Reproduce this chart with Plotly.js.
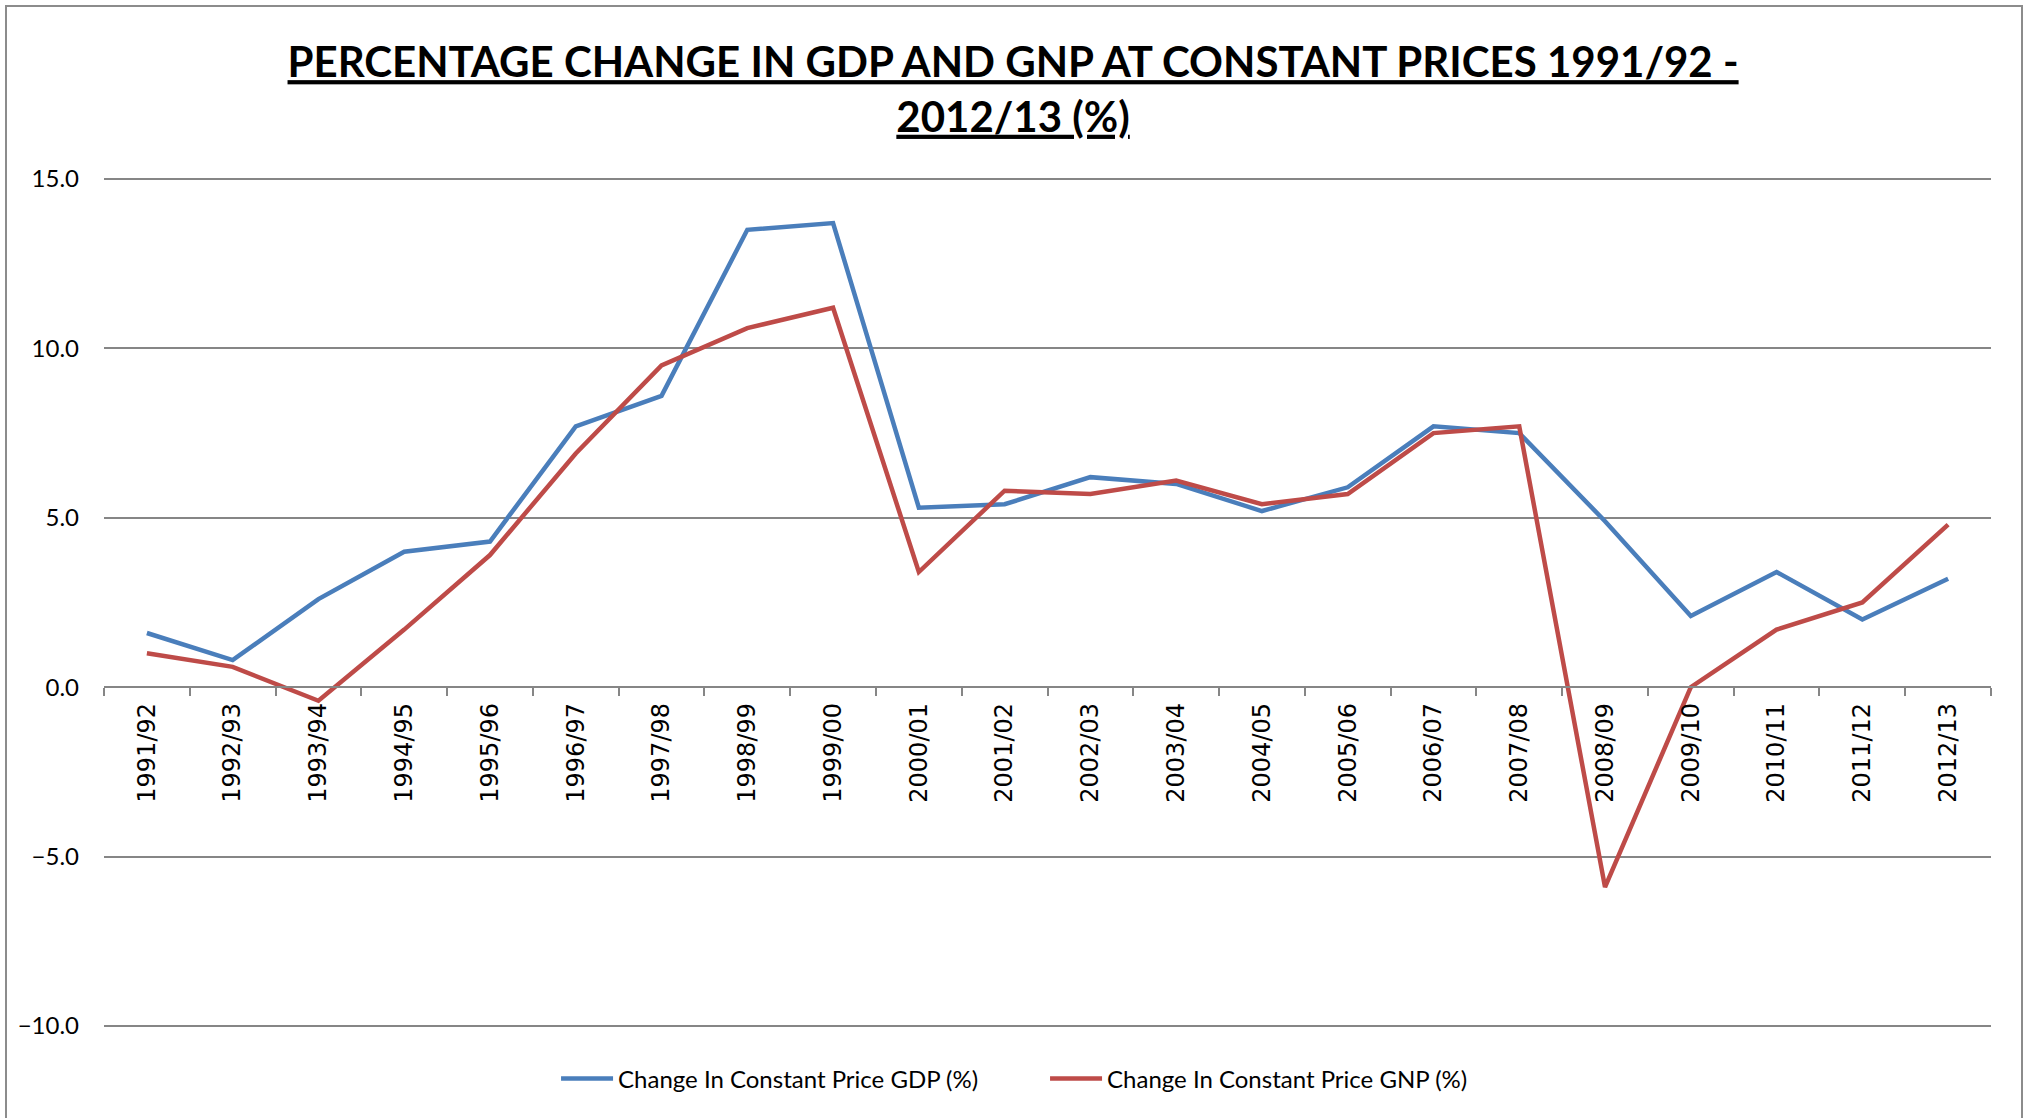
<!DOCTYPE html>
<html>
<head>
<meta charset="utf-8">
<script src="https://cdn.plot.ly/plotly-3.0.1.min.js"></script>
<style>
  html, body { margin: 0; padding: 0; background: #ffffff; overflow: hidden; }
  #chart { position: absolute; left: 0; top: 0; width: 2031px; height: 1118px; }
  #frame { position: absolute; left: 5px; top: 5px; width: 2014px; height: 1140px;
           border: 2px solid #8c8c8c; pointer-events: none; }
</style>
</head>
<body>
<div id="chart"></div>
<div id="frame"></div>
<script>
const categories = ['1991/92','1992/93','1993/94','1994/95','1995/96','1996/97','1997/98','1998/99',
  '1999/00','2000/01','2001/02','2002/03','2003/04','2004/05','2005/06','2006/07','2007/08',
  '2008/09','2009/10','2010/11','2011/12','2012/13'];
const gdpChange = [1.6, 0.8, 2.6, 4.0, 4.3, 7.7, 8.6, 13.5, 13.7, 5.3, 5.4, 6.2, 6.0, 5.2, 5.9, 7.7, 7.5, 4.9, 2.1, 3.4, 2.0, 3.2];
const gnpChange = [1.0, 0.6, -0.4, 1.7, 3.9, 6.9, 9.5, 10.6, 11.2, 3.4, 5.8, 5.7, 6.1, 5.4, 5.7, 7.5, 7.7, -5.9, 0.0, 1.7, 2.5, 4.8];
const seriesNames = ['Change In Constant Price GDP (%)', 'Change In Constant Price GNP (%)'];
const yTicks = [-10, -5, 0, 5, 10, 15];
const titleLines = ['PERCENTAGE CHANGE IN GDP AND GNP AT CONSTANT PRICES 1991/92 -', '2012/13 (%)'];

const traces = [
  { x: categories, y: gdpChange, name: seriesNames[0], type: 'scatter', mode: 'lines',
    line: { color: '#4A7EBB', width: 4.5 } },
  { x: categories, y: gnpChange, name: seriesNames[1], type: 'scatter', mode: 'lines',
    line: { color: '#BE4B48', width: 4.5 } }
];

const layout = {
  width: 2031, height: 1118,
  paper_bgcolor: 'rgba(0,0,0,0)', plot_bgcolor: '#ffffff',
  margin: { l: 104, r: 40, t: 178, b: 91, pad: 0 },
  title: {
    text: '<b><u>' + titleLines[0] + '</u><br><u>' + titleLines[1] + '</u></b>',
    font: { family: 'Lato, "Open Sans", sans-serif', size: 42, color: '#000000' },
    x: 0.4988, xanchor: 'center', y: 0.931, yanchor: 'middle'
  },
  xaxis: {
    type: 'category', range: [-0.5, 21.5],
    anchor: 'free', position: 0.4,
    tickson: 'boundaries', ticks: 'outside', ticklen: 8, tickwidth: 2, tickcolor: '#868686',
    showline: true, linecolor: '#868686', linewidth: 2,
    showgrid: false, zeroline: false,
    tickangle: -90, ticklabelstandoff: 5,
    tickfont: { family: '"DejaVu Sans", sans-serif', size: 24, color: '#000000' }
  },
  yaxis: {
    range: [-10.03, 15.03], tickvals: yTicks, tickformat: '.1f',
    showgrid: true, gridcolor: '#868686', gridwidth: 2,
    showline: false, zeroline: false, ticks: '',
    ticklabelstandoff: 24,
    tickfont: { family: 'Lato, sans-serif', size: 24, color: '#000000' }
  },
  showlegend: true,
  legend: {
    orientation: 'h', x: 0.4987, xanchor: 'center', y: -0.061, yanchor: 'middle',
    itemwidth: 52, entrywidth: 422, entrywidthmode: 'pixels',
    font: { family: 'Lato, sans-serif', size: 24, color: '#000000' },
    bgcolor: 'rgba(0,0,0,0)'
  },
  hovermode: false
};

Plotly.newPlot('chart', traces, layout, { displayModeBar: false, staticPlot: true });
</script>
</body>
</html>
